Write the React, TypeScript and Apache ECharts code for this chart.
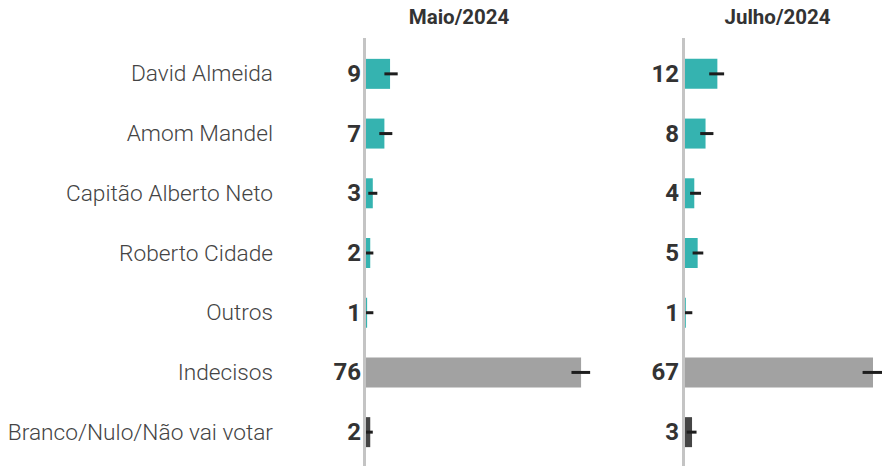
import React, { useEffect, useRef } from "react";
import * as echarts from "echarts";

const categories = [
  "David Almeida",
  "Amom Mandel",
  "Capitão Alberto Neto",
  "Roberto Cidade",
  "Outros",
  "Indecisos",
  "Branco/Nulo/Não vai votar",
];
const panelTitles = ["Maio/2024", "Julho/2024"];

const labelsMay = ["9", "7", "3", "2", "1", "76", "2"];
const valuesMay = [8.5, 6.5, 2.4, 1.5, 0.4, 76.0, 1.5];
const lowMay = [6.5, 4.7, 0.8, 0, 0, 72.6, 0];
const highMay = [11.2, 9.3, 4.0, 2.6, 2.6, 79.2, 2.4];

const labelsJul = ["12", "8", "4", "5", "1", "67", "3"];
const valuesJul = [11.5, 7.3, 3.3, 4.5, 0.3, 66.8, 2.5];
const lowJul = [8.6, 5.4, 1.8, 2.7, 0, 63.1, 0.6];
const highJul = [13.9, 10.1, 5.7, 6.5, 2.6, 70.5, 4.1];

const barColors = ["#35b3b0", "#35b3b0", "#35b3b0", "#35b3b0", "#35b3b0", "#a2a2a2", "#454545"];

export default function App() {
  const ref = useRef<HTMLDivElement>(null);
  useEffect(() => {
    if (!ref.current) return;
    const chart = echarts.init(ref.current, null, { renderer: "svg" });
    const gridTop = 44;
    const gridHeight = 418;
    const lefts = [366, 685];
    const pxPerUnit = 2.83;
    const maxes = [80, 70];

    const mkBar = (vals: number[], idx: number) => ({
      type: "bar",
      xAxisIndex: idx,
      yAxisIndex: idx === 0 ? 0 : 2,
      barWidth: 30,
      data: vals.map((v, i) => ({ value: v, itemStyle: { color: barColors[i] } })),
      silent: true,
    });
    const mkErr = (lo: number[], hi: number[], idx: number) => ({
      type: "custom",
      xAxisIndex: idx,
      yAxisIndex: idx === 0 ? 0 : 2,
      clip: false,
      silent: true,
      z: 5,
      data: lo.map((l, i) => [l, hi[i], i]),
      encode: { x: [0, 1], y: 2 },
      renderItem: (params: any, api: any) => {
        const y = api.value(2);
        const s = api.coord([api.value(0), y]);
        const e = api.coord([api.value(1), y]);
        return {
          type: "line",
          shape: { x1: s[0], y1: s[1], x2: e[0], y2: e[1] },
          style: { stroke: "#1e1e1e", lineWidth: 3 },
        };
      },
    });

    const valueAxisLabel = (labels: string[], margin: number) => ({
      show: true,
      margin,
      fontFamily: "Roboto",
      fontWeight: "bold",
      fontSize: 24,
      color: "#333333",
      formatter: (_v: string, i: number) => labels[i],
    });

    chart.setOption({
      animation: false,
      grid: [
        { left: lefts[0], top: gridTop, width: maxes[0] * pxPerUnit, height: gridHeight },
        { left: lefts[1], top: gridTop, width: maxes[1] * pxPerUnit, height: gridHeight },
      ],
      xAxis: [0, 1].map((g) => ({
        type: "value",
        gridIndex: g,
        min: 0,
        max: maxes[g],
        show: false,
      })),
      yAxis: [
        {
          type: "category",
          gridIndex: 0,
          inverse: true,
          data: categories,
          axisLine: { show: false },
          axisTick: { show: false },
          axisLabel: valueAxisLabel(labelsMay, 5),
        },
        {
          type: "category",
          gridIndex: 0,
          position: "left",
          inverse: true,
          data: categories,
          axisLine: { show: false },
          axisTick: { show: false },
          axisLabel: {
            margin: 93,
            fontFamily: "Roboto",
            fontWeight: 300,
            fontSize: 22.7,
            color: "#444444",
          },
        },
        {
          type: "category",
          gridIndex: 1,
          inverse: true,
          data: categories,
          axisLine: { show: false },
          axisTick: { show: false },
          axisLabel: valueAxisLabel(labelsJul, 6),
        },
      ],
      graphic: [
        { type: "rect", shape: { x: 363, y: 38, width: 3, height: 428 }, style: { fill: "#c4c4c4" }, z: 10 },
        { type: "rect", shape: { x: 682, y: 38, width: 3, height: 428 }, style: { fill: "#c4c4c4" }, z: 10 },
        ...panelTitles.map((t, i) => ({
          type: "text",
          x: i === 0 ? 459 : 777.5,
          y: 17,
          style: {
            text: t,
            fontFamily: "Roboto",
            fontWeight: "bold",
            fontSize: 20.5,
            fill: "#333333",
            textAlign: "center",
            textVerticalAlign: "middle",
          },
        })),
      ],
      series: [
        mkBar(valuesMay, 0),
        mkErr(lowMay, highMay, 0),
        mkBar(valuesJul, 1),
        mkErr(lowJul, highJul, 1),
      ],
    });
    return () => chart.dispose();
  }, []);
  return (
    <div
      ref={ref}
      style={{ position: "fixed", left: 0, top: 0, width: 882, height: 466, background: "#fff" }}
    />
  );
}
